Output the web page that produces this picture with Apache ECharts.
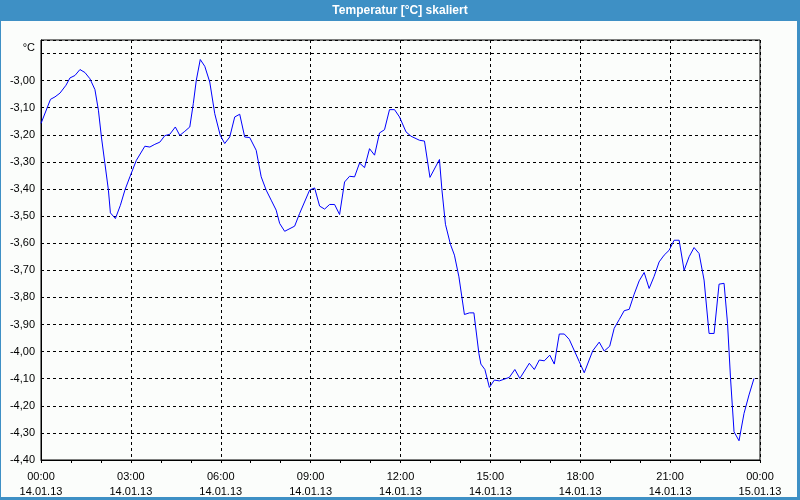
<!DOCTYPE html>
<html>
<head>
<meta charset="utf-8">
<script src="https://cdn.jsdelivr.net/npm/echarts@6/dist/echarts.min.js"></script>
<style>
html,body{margin:0;padding:0;background:#fbfdfb;}
#chart{width:800px;height:500px;}
</style>
</head>
<body>
<div id="chart"></div>
<script>
// minutes since 14.01.13 00:00
const minutes = [0,19,28,38,50,58,68,78,88,98,108,115,121,128,135,139,149,159,168,178,191,208,218,228,238,248,258,269,278,288,298,305,311,319,328,338,348,359,368,378,388,398,408,418,431,441,451,461,471,478,488,508,518,538,548,558,568,578,588,598,608,618,628,638,648,658,668,678,688,698,708,718,731,741,758,768,779,798,803,810,820,828,837,848,858,867,877,881,889,898,908,918,938,949,959,978,988,998,1008,1019,1028,1038,1048,1058,1078,1088,1105,1118,1128,1139,1148,1158,1168,1178,1188,1198,1208,1218,1228,1238,1248,1258,1268,1278,1288,1298,1308,1318,1328,1338,1348,1358,1368,1375,1381,1388,1398,1408,1418,1428];
const temps = [-3.158,-3.069,-3.060,-3.046,-3.017,-2.990,-2.981,-2.959,-2.970,-2.993,-3.033,-3.109,-3.208,-3.306,-3.404,-3.488,-3.509,-3.460,-3.404,-3.355,-3.294,-3.242,-3.245,-3.235,-3.227,-3.203,-3.198,-3.171,-3.202,-3.187,-3.171,-3.085,-2.999,-2.922,-2.947,-3.005,-3.122,-3.202,-3.232,-3.208,-3.134,-3.124,-3.208,-3.210,-3.257,-3.355,-3.404,-3.441,-3.478,-3.527,-3.556,-3.537,-3.490,-3.404,-3.396,-3.463,-3.474,-3.457,-3.457,-3.494,-3.374,-3.353,-3.355,-3.304,-3.321,-3.251,-3.275,-3.193,-3.181,-3.107,-3.107,-3.134,-3.189,-3.205,-3.220,-3.223,-3.357,-3.291,-3.404,-3.530,-3.604,-3.644,-3.724,-3.863,-3.857,-3.857,-4.007,-4.046,-4.066,-4.132,-4.105,-4.108,-4.095,-4.066,-4.099,-4.043,-4.066,-4.031,-4.034,-4.013,-4.046,-3.935,-3.935,-3.955,-4.037,-4.078,-3.997,-3.965,-3.998,-3.980,-3.914,-3.882,-3.849,-3.844,-3.788,-3.739,-3.708,-3.767,-3.722,-3.669,-3.644,-3.626,-3.589,-3.589,-3.700,-3.650,-3.616,-3.638,-3.736,-3.933,-3.933,-3.751,-3.748,-3.896,-4.099,-4.296,-4.329,-4.228,-4.160,-4.099];

const titleText = 'Temperatur [°C] skaliert';
const unitText = '°C';
const tickTimes = ['00:00','03:00','06:00','09:00','12:00','15:00','18:00','21:00','00:00'];
const tickDates = ['14.01.13','14.01.13','14.01.13','14.01.13','14.01.13','14.01.13','14.01.13','14.01.13','15.01.13'];

const data = minutes.map((m, i) => [m, temps[i]]);
const font = 'Liberation Sans, Arial, sans-serif';

const chart = echarts.init(document.getElementById('chart'));
chart.setOption({
  animation: false,
  backgroundColor: '#fbfdfb',
  graphic: [
    {type: 'rect', shape: {x: 0, y: 0, width: 800, height: 21}, style: {fill: '#3e90c5'}, z: -1},
    {type: 'rect', shape: {x: 0, y: 0, width: 800, height: 500}, style: {fill: 'none', stroke: '#3e90c5', lineWidth: 2}, z: -1},
    {type: 'rect', shape: {x: 797, y: 0, width: 3, height: 500}, style: {fill: '#3e90c5'}, z: -1},
    {type: 'rect', shape: {x: 0, y: 497, width: 800, height: 3}, style: {fill: '#3e90c5'}, z: -1}
  ],
  title: {
    text: titleText,
    left: 'center',
    top: 3,
    padding: 0,
    textStyle: {color: '#ffffff', fontWeight: 'bold', fontSize: 12, fontFamily: font, lineHeight: 15}
  },
  grid: {left: 41, right: 40, top: 40, bottom: 40, show: true, borderColor: '#000', borderWidth: 1, backgroundColor: 'transparent'},
  xAxis: {
    type: 'value',
    min: 0,
    max: 1440,
    interval: 180,
    axisLine: {show: true, onZero: false, lineStyle: {color: '#000', width: 1}},
    axisTick: {show: true, length: 3, lineStyle: {color: '#000'}},
    minorTick: {show: true, splitNumber: 3, length: 3, lineStyle: {color: '#000'}},
    splitLine: {show: true, lineStyle: {color: '#000', type: [3, 3], width: 1}},
    axisLabel: {
      color: '#000', fontFamily: font, fontSize: 11, lineHeight: 15, margin: 9,
      formatter: function (v) { const i = Math.round(v / 180); return tickTimes[i] + '\n' + tickDates[i]; }
    }
  },
  yAxis: {
    type: 'value',
    min: -4.4,
    max: -2.85,
    interval: 0.1,
    name: unitText,
    nameLocation: 'end',
    nameGap: -8,
    nameTextStyle: {color: '#000', fontFamily: font, fontSize: 11, align: 'right', verticalAlign: 'middle', padding: [0, 6, 0, 0]},
    axisLine: {show: true, lineStyle: {color: '#000', width: 1}},
    axisTick: {show: false},
    splitLine: {show: true, lineStyle: {color: '#000', type: [3, 3], width: 1}},
    axisLabel: {
      color: '#000', fontFamily: font, fontSize: 11, margin: 6,
      formatter: function (v) {
        if (v > -2.95) return '';
        return v.toFixed(2).replace('.', ',');
      }
    }
  },
  series: [{
    type: 'line',
    data: data,
    showSymbol: false,
    symbol: 'none',
    lineStyle: {color: '#0000ff', width: 1},
    itemStyle: {color: '#0000ff'}
  }]
});
</script>
</body>
</html>
